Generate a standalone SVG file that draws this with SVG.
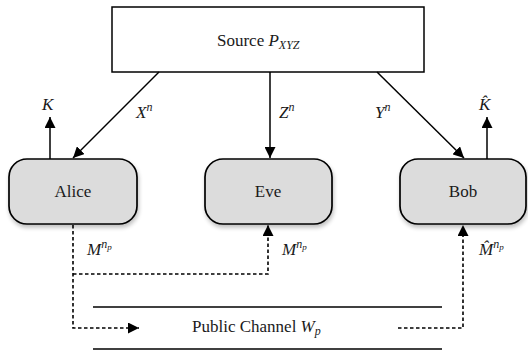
<svg xmlns="http://www.w3.org/2000/svg" width="528" height="352" viewBox="0 0 528 352" font-family="'Liberation Serif', 'DejaVu Serif', serif">
<defs>
<marker id="ah" viewBox="0 0 10 10" refX="10" refY="5" markerWidth="11" markerHeight="11" markerUnits="userSpaceOnUse" orient="auto">
<path d="M0,0 L10,5 L0,10 Z" fill="#000"/>
</marker>
<filter id="sh" x="-10%" y="-10%" width="130%" height="140%">
<feGaussianBlur in="SourceAlpha" stdDeviation="2"/>
<feOffset dx="1" dy="3"/>
<feComponentTransfer><feFuncA type="linear" slope="0.25"/></feComponentTransfer>
<feMerge><feMergeNode/><feMergeNode in="SourceGraphic"/></feMerge>
</filter>
</defs>
<style>
text{font-family:"Liberation Serif","DejaVu Serif",serif;font-size:17px;fill:#1a1a1a}
.m{font-style:italic}
.sub{font-size:12px;font-style:italic}
.ss{font-size:9px;font-style:italic}
.box{fill:#dcdcdc;stroke:#000;stroke-width:1.7}
.ln{stroke:#000;stroke-width:1.5;fill:none}
.dl{stroke:#000;stroke-width:1.6;fill:none;stroke-dasharray:3.5,2.5}
</style>
<g id="source">
<rect x="112" y="7" width="312" height="65" fill="#fff" stroke="#000" stroke-width="1.5"/>
<text x="217" y="46">Source <tspan class="m">P</tspan><tspan class="sub" dy="3">XYZ</tspan></text>
</g>
<g id="alice">
<rect class="box" x="9" y="159" width="128" height="65" rx="18" filter="url(#sh)"/>
<text x="73" y="197" text-anchor="middle">Alice</text>
</g>
<g id="eve">
<rect class="box" x="205" y="159" width="127" height="65" rx="18" filter="url(#sh)"/>
<text x="268" y="197" text-anchor="middle">Eve</text>
</g>
<g id="bob">
<rect class="box" x="400" y="159" width="126" height="65" rx="18" filter="url(#sh)"/>
<text x="463" y="197" text-anchor="middle">Bob</text>
</g>
<g id="channel">
<line class="ln" x1="93" y1="307" x2="442" y2="307"/>
<line class="ln" x1="93" y1="349" x2="442" y2="349"/>
<text x="192" y="332">Public Channel <tspan class="m">W</tspan><tspan class="sub" dy="3">p</tspan></text>
</g>
<g id="connectors">
<line class="ln" x1="159" y1="72" x2="73" y2="158" marker-end="url(#ah)"/>
<line class="ln" x1="270" y1="72" x2="270" y2="158" marker-end="url(#ah)"/>
<line class="ln" x1="377" y1="72" x2="464" y2="158" marker-end="url(#ah)"/>
<line class="ln" x1="50" y1="159" x2="50" y2="117" marker-end="url(#ah)"/>
<line class="ln" x1="487" y1="159" x2="487" y2="117" marker-end="url(#ah)"/>
<path class="dl" d="M73,225 V328 H139" marker-end="url(#ah)"/>
<path class="dl" d="M73,274 H268 V225" marker-end="url(#ah)"/>
<path class="dl" d="M398,328 H463 V225" marker-end="url(#ah)"/>
</g>
<g id="labels">
<text class="m" x="42" y="110">K</text>
<text class="m" x="479" y="110">K&#x302;</text>
<text class="m" x="136" y="118">X<tspan class="sub" dy="-7">n</tspan></text>
<text class="m" x="279" y="118">Z<tspan class="sub" dy="-7">n</tspan></text>
<text class="m" x="375" y="118">Y<tspan class="sub" dy="-7">n</tspan></text>
<text class="m" x="87" y="255">M<tspan class="sub" dy="-7">n</tspan><tspan class="ss" dy="2">p</tspan></text>
<text class="m" x="282" y="255">M<tspan class="sub" dy="-7">n</tspan><tspan class="ss" dy="2">p</tspan></text>
<text class="m" x="479" y="255">M&#x302;<tspan class="sub" dy="-7">n</tspan><tspan class="ss" dy="2">p</tspan></text>
</g>
</svg>
